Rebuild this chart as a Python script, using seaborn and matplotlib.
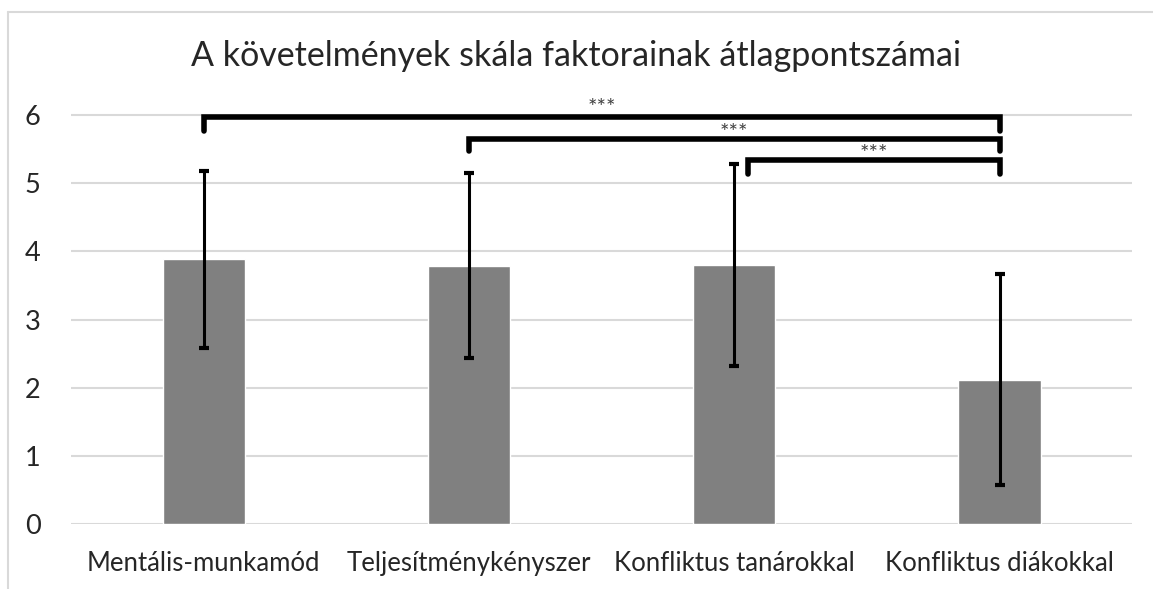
import numpy as np
import pandas as pd
import matplotlib
matplotlib.use("Agg")
import matplotlib.pyplot as plt
import seaborn as sns

categories = ["Mentális-munkamód", "Teljesítménykényszer",
              "Konfliktus tanárokkal", "Konfliktus diákokkal"]
means = [3.88, 3.79, 3.80, 2.12]
errors = [1.29, 1.36, 1.48, 1.55]

# significance brackets: (left, right, bar height, drop height)
brackets = [(0, 3, 5.97, 5.76), (1, 3, 5.65, 5.47), (2.05, 3, 5.34, 5.13)]
bracket_labels = ["***", "***", "***"]
star_y = [6.17, 5.80, 5.49]

sns.set_theme(style="white")
plt.rcParams["font.family"] = ["Lato", "DejaVu Sans"]

df = pd.DataFrame({"faktor": categories, "atlag": means})

fig = plt.figure(figsize=(11.53, 5.89), dpi=100)
ax = fig.add_axes([0.0616, 0.110, 0.9204, 0.7645])

sns.barplot(data=df, x="faktor", y="atlag", color="#808080", width=0.31,
            saturation=1, errorbar=None, ax=ax, zorder=3)
ax.errorbar(np.arange(len(means)), means, yerr=errors, fmt="none",
            ecolor="black", elinewidth=2.2, capsize=3.5, capthick=3, zorder=4)

for (x1, x2, y, yd), lab, ys in zip(brackets, bracket_labels, star_y):
    ax.plot([x1, x1, x2, x2], [yd, y, y, yd], color="black", lw=4,
            solid_capstyle="round", solid_joinstyle="miter", zorder=5)
    ax.text((x1 + x2) / 2, ys - 0.07, lab, ha="center", va="center",
            fontsize=16, color="#404040")

ax.set_ylim(0, 6.6)
ax.set_xlim(-0.5, 3.5)
ax.set_yticks(range(7))
ax.yaxis.grid(True, color="#d9d9d9", lw=1.5, zorder=0)
ax.set_axisbelow(True)
for s in ax.spines.values():
    s.set_visible(False)
ax.set_xlabel("")
ax.set_ylabel("")
ax.tick_params(axis="both", length=0, labelcolor="#262626")
ax.tick_params(axis="x", labelsize=18.5, pad=19)
ax.tick_params(axis="y", labelsize=19.5, pad=22)

fig.text(0.5, 0.905, "A követelmények skála faktorainak átlagpontszámai",
         ha="center", va="center", fontsize=24.5, color="#262626")

# chart frame
fig.add_artist(plt.Line2D([0.007, 0.007], [0, 0.98], color="#d9d9d9", lw=1.5))
fig.add_artist(plt.Line2D([0.007, 1], [0.98, 0.98], color="#d9d9d9", lw=1.5))

fig.savefig("out.png", dpi=100, facecolor="white")
